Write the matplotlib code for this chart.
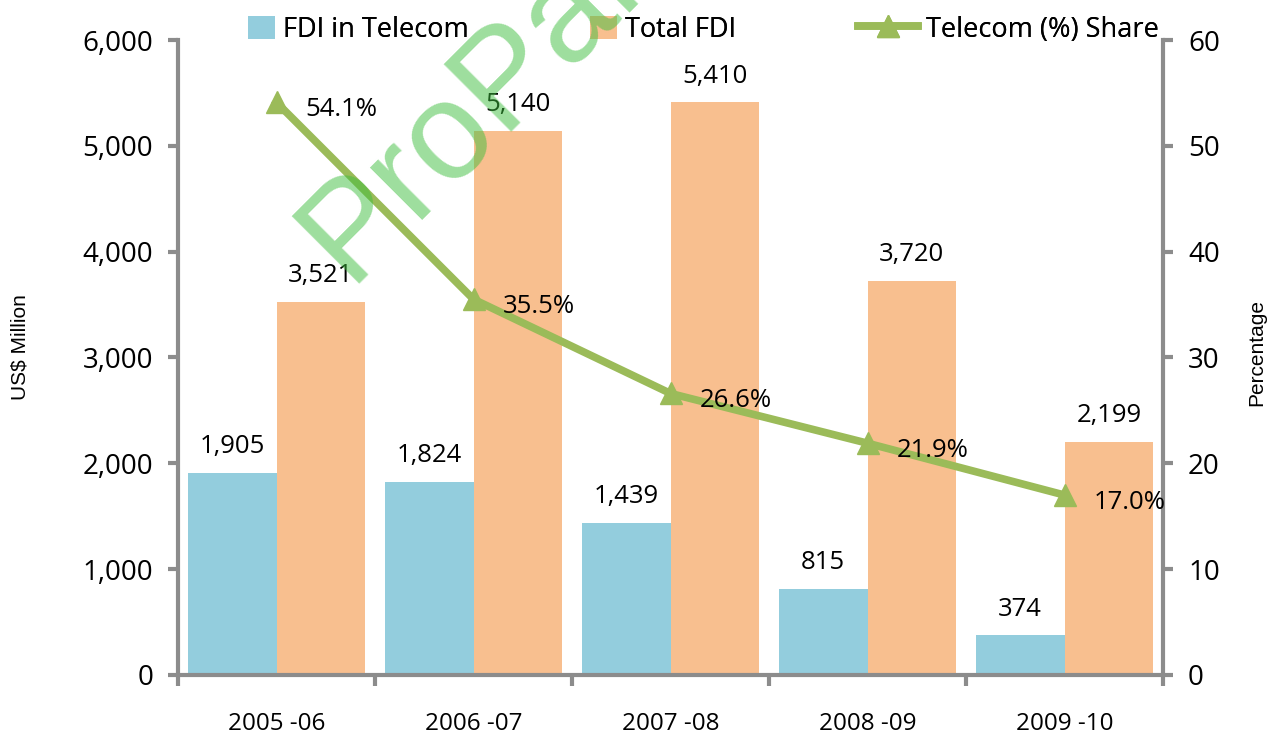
import numpy as np
import matplotlib.pyplot as plt

years = ['2005 -06', '2006 -07', '2007 -08', '2008 -09', '2009 -10']
fdi_telecom = [1905, 1824, 1439, 815, 374]
fdi_total = [3521, 5140, 5410, 3720, 2199]
telecom_share = [54.1, 35.5, 26.6, 21.9, 17.0]

blue = '#93CDDD'
orange = '#F8BF8F'
green = '#9BBB59'
gray = '#8C8C8C'
font = 'Open Sans'

fig = plt.figure(figsize=(12.69, 7.34), dpi=100)
ax = fig.add_axes([0.1403, 0.0804, 0.7762, 0.8651])
ax2 = ax.twinx()

x = np.arange(len(years)) + 0.5
w = 0.45
b1 = ax.bar(x - w / 2, fdi_telecom, w, color=blue, label='FDI in Telecom', zorder=2)
b2 = ax.bar(x + w / 2, fdi_total, w, color=orange, label='Total FDI', zorder=2)

for xi, v in zip(x - w / 2, fdi_telecom):
    ax.annotate(f'{v:,}', (xi, v), xytext=(0, 10), textcoords='offset points',
                ha='center', va='bottom', fontsize=18.5, family=font)
for xi, v in zip(x + w / 2, fdi_total):
    ax.annotate(f'{v:,}', (xi, v), xytext=(0, 10), textcoords='offset points',
                ha='center', va='bottom', fontsize=18.5, family=font)

ln, = ax2.plot(x, telecom_share, color=green, lw=5.5, marker='^', ms=16,
               label='Telecom (%) Share', zorder=3)
for xi, v in zip(x, telecom_share):
    ax2.annotate(f'{v:.1f}%', (xi, v), xytext=(21, -5), textcoords='offset points',
                 ha='left', va='center', fontsize=18.5, family=font)

ax.set_xlim(0, 5)
ax.set_ylim(0, 6000)
ax2.set_ylim(0, 60)
ax.set_yticks(range(0, 6001, 1000))
ax.set_yticklabels([f'{v:,}' for v in range(0, 6001, 1000)], family=font, fontsize=20)
ax2.set_yticks(range(0, 61, 10))
ax2.set_yticklabels([str(v) for v in range(0, 61, 10)], family=font, fontsize=20)
ax.set_xticks(np.arange(0, 6))
ax.set_xticklabels([])
ax.set_xticks(x, minor=True)
ax.set_xticklabels(years, minor=True, family=font, fontsize=17.5)
ax.tick_params(axis='x', which='minor', length=0, pad=27)
ax.tick_params(axis='x', which='major', length=8, width=3, color=gray, direction='out')
ax.tick_params(axis='y', length=7, width=3, color=gray, direction='out', pad=11)
ax2.tick_params(axis='y', length=7, width=3, color=gray, direction='out', pad=11)

for a in (ax, ax2):
    for s in a.spines.values():
        s.set_visible(False)
ax.spines['left'].set_visible(True)
ax.spines['bottom'].set_visible(True)
ax2.spines['right'].set_visible(True)
for s in (ax.spines['left'], ax.spines['bottom'], ax2.spines['right']):
    s.set_color(gray)
    s.set_linewidth(3)

fig.text(0.016, 0.527, 'US$ Million', rotation=90, ha='center', va='center',
         fontsize=15, family='Liberation Sans')
fig.text(0.99, 0.52, 'Percentage', rotation=90, ha='center', va='center',
         fontsize=15, family='Liberation Sans')

# legend entries placed one by one along the top
entries = [(b1, 'FDI in Telecom', 248, 1.0), (b2, 'Total FDI', 590, 1.0),
           (ln, 'Telecom (%) Share', 858, 2.2)]
for handle, text, left, hl in entries:
    leg = fig.legend([handle], [text], loc='center left',
                     bbox_to_anchor=(left / 1269, 0.9595), frameon=False,
                     borderpad=0, borderaxespad=0, handlelength=hl, handleheight=0.9,
                     handletextpad=0.3, prop={'family': font, 'size': 19.5})
    fig.add_artist(leg)

# watermark
fig.text(348 / 1269, 1 - 283 / 734, 'ProPakistani', rotation=45, rotation_mode='anchor',
         ha='left', va='baseline', fontsize=100, color='#3DBE3D', alpha=0.5,
         family='Liberation Sans', zorder=10)

fig.savefig('out.png', dpi=100)
